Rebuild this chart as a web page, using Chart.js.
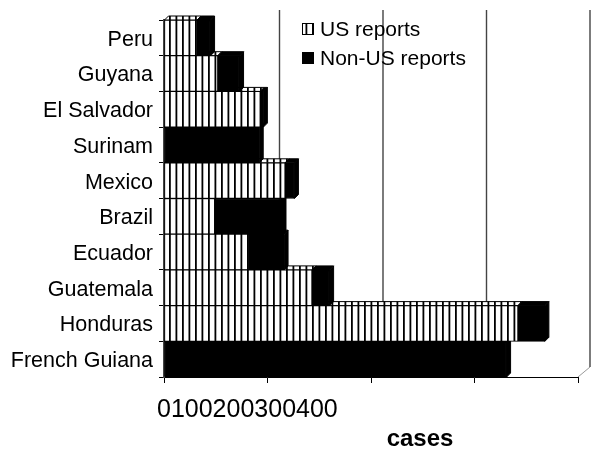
<!DOCTYPE html>
<html>
<head>
<meta charset="utf-8">
<script src="https://cdn.jsdelivr.net/npm/chart.js@4/dist/chart.umd.min.js"></script>
<style>
  html, body { margin: 0; padding: 0; background: #fff; }
  canvas { display: block; }
</style>
</head>
<body>
<canvas id="c" width="592" height="449"></canvas>
<script>
// Reported cases by country of origin
const countries = ['Peru', 'Guyana', 'El Salvador', 'Surinam', 'Mexico', 'Brazil',
                   'Ecuador', 'Guatemala', 'Honduras', 'French Guiana'];
const usReports    = [32, 52, 93, 0, 117, 49, 82, 143, 342, 0];
const nonUsReports = [13, 21, 3, 92, 9, 65, 34, 17, 26, 331];
const caseTicks = [0, 100, 200, 300, 400];
const seriesNames = ['US reports', 'Non-US reports'];
const axisTitle = 'cases';

const FONT = '"Liberation Sans", Arial, Helvetica, sans-serif';
const WALL = { x: 12, y: 10 };   // offset of the back wall
const BAR_DEPTH = 4;             // visible depth of each bar

const canvas = document.getElementById('c');
const ctx2d = canvas.getContext('2d');

// vertical stripe fill for the US series
function stripes() {
  const p = document.createElement('canvas');
  p.width = 13; p.height = 4;
  const g = p.getContext('2d');
  g.fillStyle = '#fff';
  g.fillRect(0, 0, 13, 4);
  g.fillStyle = '#000';
  g.fillRect(0, 0, 1.8, 4);
  g.fillRect(6.5, 0, 1.8, 4);
  return ctx2d.createPattern(p, 'repeat');
}
const stripeFill = stripes();

// back wall, floor lines and the top / side faces of the bars
const depthFaces = {
  id: 'depthFaces',
  beforeDatasetsDraw(chart) {
    const { ctx, chartArea: a, scales: { x } } = chart;
    ctx.save();
    caseTicks.forEach(v => {
      const px = x.getPixelForValue(v);
      ctx.strokeStyle = '#999';
      ctx.lineWidth = 1;
      ctx.beginPath();
      ctx.moveTo(px, a.bottom);
      ctx.lineTo(px + WALL.x, a.bottom - WALL.y);
      ctx.stroke();
      if (v > 0) {
        ctx.strokeStyle = '#444';
        ctx.lineWidth = 1.4;
        ctx.beginPath();
        ctx.moveTo(px + WALL.x, a.top - WALL.y);
        ctx.lineTo(px + WALL.x, a.bottom - WALL.y);
        ctx.stroke();
      }
    });

    const metas = chart.data.datasets.map((d, i) => chart.getDatasetMeta(i));
    const d = BAR_DEPTH;
    for (let i = countries.length - 1; i >= 0; i--) {
      let outer = null;
      metas.forEach((meta, k) => {
        const val = chart.data.datasets[k].data[i];
        if (!(val > 0)) return;
        const el = meta.data[i];
        const top = el.y - el.height / 2;
        const x0 = Math.min(el.base, el.x), x1 = Math.max(el.base, el.x);
        ctx.fillStyle = chart.data.datasets[k].backgroundColor;
        ctx.strokeStyle = '#000';
        ctx.lineWidth = 1;
        ctx.beginPath();
        ctx.moveTo(x0, top);
        ctx.lineTo(x1, top);
        ctx.lineTo(x1 + d, top - d);
        ctx.lineTo(x0 + d, top - d);
        ctx.closePath();
        ctx.fill();
        ctx.stroke();
        outer = { x1, top, bottom: el.y + el.height / 2 };
      });
      if (outer) {
        ctx.fillStyle = '#000';
        ctx.beginPath();
        ctx.moveTo(outer.x1, outer.top);
        ctx.lineTo(outer.x1 + d, outer.top - d);
        ctx.lineTo(outer.x1 + d, outer.bottom - d);
        ctx.lineTo(outer.x1, outer.bottom);
        ctx.closePath();
        ctx.fill();
        ctx.stroke();
      }
    }
    ctx.restore();
  }
};

// legend, run-together axis numbers and the axis title
const annotations = {
  id: 'annotations',
  afterDraw(chart) {
    const { ctx, scales: { x } } = chart;
    ctx.save();
    ctx.textBaseline = 'middle';
    ctx.textAlign = 'left';

    // legend
    ctx.font = '21px ' + FONT;
    const rows = [29, 58];
    chart.data.datasets.forEach((ds, k) => {
      const y = rows[k];
      ctx.fillStyle = ds.backgroundColor;
      ctx.fillRect(302, y - 6, 12, 12);
      ctx.strokeStyle = '#000';
      ctx.lineWidth = 1;
      ctx.strokeRect(302.5, y - 5.5, 11, 11);
      ctx.fillStyle = '#000';
      ctx.fillText(ds.label, 320, y + 1);
    });

    // axis numbers, printed without spacing
    ctx.font = '25px ' + FONT;
    ctx.fillStyle = '#000';
    let cx = 157;
    const labels = x.ticks.map(t => String(t.label != null ? t.label : t.value));
    labels.forEach(s => {
      ctx.fillText(s, cx, 410);
      cx += ctx.measureText(s).width;
    });

    // axis title
    ctx.font = 'bold 24px ' + FONT;
    ctx.textAlign = 'center';
    ctx.fillText(axisTitle, 420, 439);
    ctx.restore();
  }
};

new Chart(canvas, {
  type: 'bar',
  data: {
    labels: countries,
    datasets: [
      { label: seriesNames[0], data: usReports, backgroundColor: stripeFill,
        borderColor: '#000', borderWidth: 1, borderSkipped: false },
      { label: seriesNames[1], data: nonUsReports, backgroundColor: '#000',
        borderColor: '#000', borderWidth: 1, borderSkipped: false }
    ]
  },
  options: {
    indexAxis: 'y',
    responsive: false,
    animation: false,
    devicePixelRatio: 1,
    layout: { padding: { top: 20, right: 14, left: 0, bottom: 0 } },
    datasets: { bar: { barPercentage: 1, categoryPercentage: 1 } },
    plugins: { legend: { display: false }, tooltip: { enabled: false } },
    scales: {
      x: {
        type: 'linear', stacked: true, min: 0, max: 400,
        ticks: { stepSize: 100, display: false },
        grid: { drawOnChartArea: false, drawTicks: true, tickLength: 6, color: '#000' },
        border: { display: true, color: '#000', width: 1 },
        afterFit(scale) { scale.height = 72; }
      },
      y: {
        type: 'category', stacked: true,
        ticks: { color: '#000', font: { family: FONT, size: 21.5 }, padding: 6, labelOffset: 2 },
        grid: { drawOnChartArea: false, drawTicks: true, tickLength: 5, color: '#000', offset: true },
        border: { display: true, color: '#444', width: 2 },
        afterFit(scale) { scale.width = 164; }
      }
    }
  },
  plugins: [depthFaces, annotations]
});
</script>
</body>
</html>
